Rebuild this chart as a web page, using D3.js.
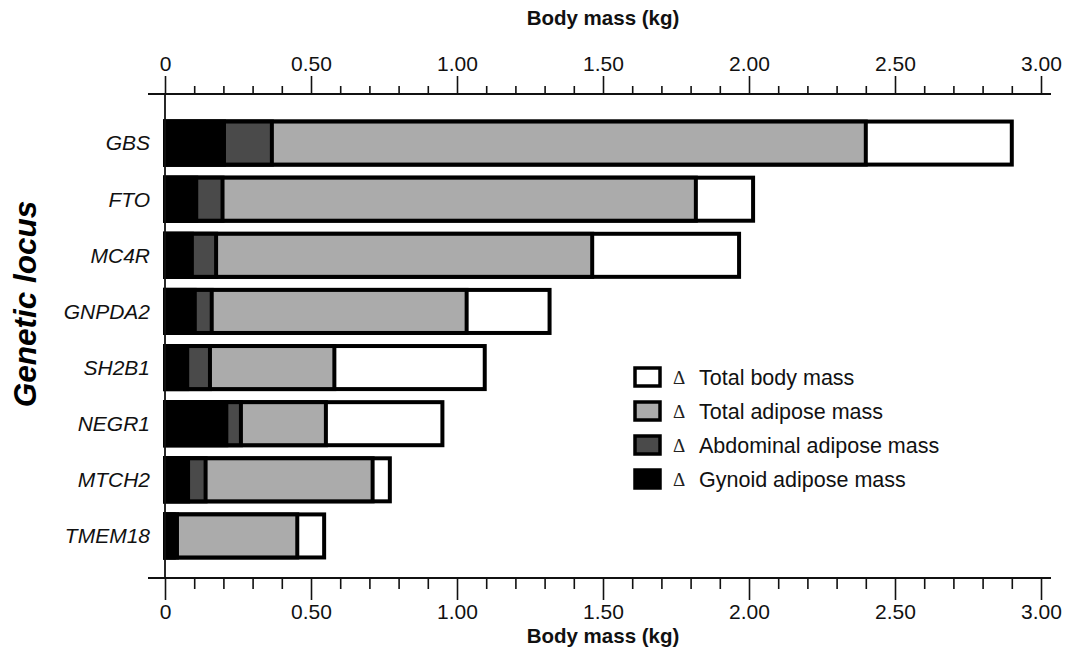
<!DOCTYPE html>
<html>
<head>
<meta charset="utf-8">
<script src="https://cdn.jsdelivr.net/npm/d3@7"></script>
<style>
  html, body { margin: 0; padding: 0; background: #fff; }
  svg { display: block; font-family: "Liberation Sans", Arial, Helvetica, sans-serif; }
</style>
</head>
<body>
<svg id="chart" width="1065" height="671"></svg>
<script>
// ---- data ----
const categories = ["GBS", "FTO", "MC4R", "GNPDA2", "SH2B1", "NEGR1", "MTCH2", "TMEM18"];
const totalBodyMass   = [2.90, 2.014, 1.966, 1.317, 1.095, 0.95, 0.77, 0.545];
const totalAdipose    = [2.40, 1.818, 1.463, 1.033, 0.58, 0.551, 0.711, 0.453];
const abdominalAdipose= [0.366, 0.197, 0.175, 0.16, 0.154, 0.26, 0.139, 0.03];
const gynoidAdipose   = [0.202, 0.107, 0.092, 0.102, 0.076, 0.21, 0.079, 0.041];
const majorTicks = [0, 0.5, 1.0, 1.5, 2.0, 2.5, 3.0];
const majorTickLabels = ["0", "0.50", "1.00", "1.50", "2.00", "2.50", "3.00"];
const minorTicks = [0.1,0.2,0.3,0.4,0.6,0.7,0.8,0.9,1.1,1.2,1.3,1.4,1.6,1.7,1.8,1.9,2.1,2.2,2.3,2.4,2.6,2.7,2.8,2.9];
const legendLabels = ["Total body mass", "Total adipose mass", "Abdominal adipose mass", "Gynoid adipose mass"];
const axisTitle = "Body mass (kg)";
const yTitle = "Genetic locus";

// ---- layout ----
const svg = d3.select("#chart");
const x = d3.scaleLinear().domain([0, 3]).range([165, 1041]);
const y = d3.scaleBand().domain(categories).range([115, 564]).paddingInner(0.233).paddingOuter(0.1165);
const topY = 94, botY = 578;
const seriesList = [
  {vals: totalBodyMass, fill: "#ffffff"},
  {vals: totalAdipose, fill: "#ababab"},
  {vals: abdominalAdipose, fill: "#4a4a4a"},
  {vals: gynoidAdipose, fill: "#000000"}
];
const colors = seriesList.map(s => s.fill);

// bars (overlapping, each from 0)
seriesList.forEach(s => {
  svg.append("g").selectAll("rect")
    .data(categories.map((c, i) => ({c, v: s.vals[i]})))
    .join("rect")
    .attr("x", x(0))
    .attr("y", d => y(d.c))
    .attr("width", d => x(d.v) - x(0))
    .attr("height", y.bandwidth())
    .attr("fill", s.fill)
    .attr("stroke", "#000")
    .attr("stroke-width", 4);
});

// axes
function styleAxis(g) {
  g.select(".domain").remove();
  g.selectAll("line").attr("stroke", "#111").attr("stroke-width", 1.6);
  g.selectAll("text").attr("font-size", 21).attr("fill", "#111")
    .attr("font-family", "'Liberation Sans', Arial, sans-serif");
}
const fmt = d => majorTickLabels[majorTicks.indexOf(d)];
svg.append("g").attr("transform", `translate(0,${topY})`)
  .call(d3.axisTop(x).tickValues(minorTicks).tickSize(8).tickFormat(""))
  .call(styleAxis);
svg.append("g").attr("transform", `translate(0,${topY})`)
  .call(d3.axisTop(x).tickValues(majorTicks).tickSize(18).tickPadding(5).tickFormat(fmt))
  .call(styleAxis);
svg.append("g").attr("transform", `translate(0,${botY})`)
  .call(d3.axisBottom(x).tickValues(minorTicks).tickSize(11).tickFormat(""))
  .call(styleAxis);
svg.append("g").attr("transform", `translate(0,${botY})`)
  .call(d3.axisBottom(x).tickValues(majorTicks).tickSize(22).tickPadding(4).tickFormat(fmt))
  .call(styleAxis);

// axis lines
[topY, botY].forEach(yy => {
  svg.append("line").attr("x1", 148).attr("x2", 1051).attr("y1", yy).attr("y2", yy)
    .attr("stroke", "#111").attr("stroke-width", 1.8);
});
svg.append("line").attr("x1", x(0)).attr("x2", x(0)).attr("y1", topY).attr("y2", botY)
  .attr("stroke", "#111").attr("stroke-width", 1.8);

// category labels
svg.append("g").selectAll("text").data(categories).join("text")
  .attr("x", 150)
  .attr("y", d => y(d) + y.bandwidth() / 2)
  .attr("dy", "0.35em")
  .attr("text-anchor", "end")
  .attr("font-size", 21)
  .attr("font-style", "italic")
  .attr("fill", "#111")
  .text(d => d);

// titles
svg.append("text").attr("x", 603).attr("y", 25).attr("text-anchor", "middle")
  .attr("font-size", 20.5).attr("font-weight", "bold").attr("fill", "#111").text(axisTitle);
svg.append("text").attr("x", 603).attr("y", 643).attr("text-anchor", "middle")
  .attr("font-size", 20.5).attr("font-weight", "bold").attr("fill", "#111").text(axisTitle);
svg.append("text").attr("transform", "translate(36,304) rotate(-90)").attr("text-anchor", "middle")
  .attr("font-size", 31.5).attr("font-weight", "bold").attr("font-style", "italic").attr("fill", "#000").text(yTitle);

// legend
const lg = svg.append("g").attr("transform", "translate(635,377)");
legendLabels.forEach((lab, i) => {
  const row = lg.append("g").attr("transform", `translate(0,${i * 34})`);
  row.append("rect").attr("x", 0).attr("y", -9).attr("width", 25).attr("height", 18)
    .attr("fill", colors[i]).attr("stroke", "#000").attr("stroke-width", 3.5);
  row.append("text").attr("x", 38).attr("y", 0).attr("dy", "0.35em")
    .attr("font-family", "'Liberation Serif', 'Times New Roman', serif")
    .attr("font-size", 19).attr("fill", "#222").text("Δ");
  row.append("text").attr("x", 64).attr("y", 0).attr("dy", "0.35em")
    .attr("font-size", 21.5).attr("fill", "#111").text(lab);
});
</script>
</body>
</html>
